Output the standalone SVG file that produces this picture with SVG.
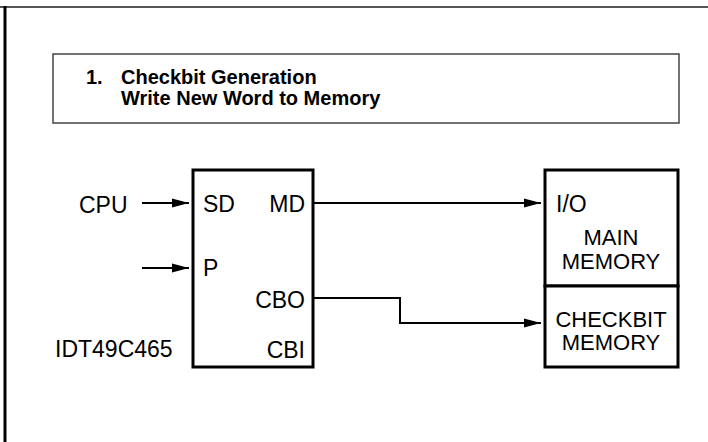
<svg xmlns="http://www.w3.org/2000/svg" width="708" height="442" viewBox="0 0 708 442">
<defs>
<marker id="ah" markerWidth="17" markerHeight="10" refX="17" refY="5" orient="auto" markerUnits="userSpaceOnUse">
<path d="M0,0.5 L17,5 L0,9.5 Z" fill="#000"/>
</marker>
</defs>
<style>
.t{font-family:"Liberation Sans",Arial,sans-serif;font-size:23px;fill:#000}
.t2{font-family:"Liberation Sans",Arial,sans-serif;font-size:22px;fill:#000}
.tb{font-family:"Liberation Sans",Arial,sans-serif;font-size:20px;font-weight:bold;fill:#000}
.box{fill:#fff;stroke:#000;stroke-width:3}
.ln{fill:none;stroke:#000;stroke-width:2}
</style>
<rect width="708" height="442" fill="#fff"/>
<g id="frame">
<line x1="0" y1="7" x2="708" y2="7" stroke="#555" stroke-width="2"/>
<line x1="5" y1="6" x2="5" y2="442" stroke="#000" stroke-width="3"/>
</g>
<g id="title">
<rect x="53" y="54" width="626" height="69" fill="#fff" stroke="#444" stroke-width="1.5"/>
<text class="tb" x="86" y="84">1.</text>
<text class="tb" x="121" y="84">Checkbit Generation</text>
<text class="tb" x="121" y="105">Write New Word to Memory</text>
</g>
<g id="chip">
<rect class="box" x="193" y="170" width="120" height="197"/>
<text class="t" x="203" y="212">SD</text>
<text class="t" x="305" y="212" text-anchor="end">MD</text>
<text class="t" x="203" y="276">P</text>
<text class="t" x="305" y="308" text-anchor="end">CBO</text>
<text class="t" x="305" y="358" text-anchor="end">CBI</text>
</g>
<g id="chip-label">
<text class="t" x="55" y="357">IDT49C465</text>
</g>
<g id="cpu">
<text class="t" x="79" y="213">CPU</text>
</g>
<g id="main-memory">
<rect class="box" x="545" y="170" width="133" height="116"/>
<text class="t" x="556" y="212">I/O</text>
<text class="t2" x="611" y="245" text-anchor="middle">MAIN</text>
<text class="t2" x="611" y="269" text-anchor="middle">MEMORY</text>
</g>
<g id="checkbit-memory">
<rect class="box" x="545" y="286" width="133" height="81"/>
<text class="t2" x="611" y="327" text-anchor="middle">CHECKBIT</text>
<text class="t2" x="611" y="350" text-anchor="middle">MEMORY</text>
</g>
<g id="connectors">
<line class="ln" x1="142" y1="203" x2="189" y2="203" marker-end="url(#ah)"/>
<line class="ln" x1="142" y1="268" x2="189" y2="268" marker-end="url(#ah)"/>
<line class="ln" x1="313" y1="203" x2="541" y2="203" marker-end="url(#ah)"/>
<polyline class="ln" points="313,298 400,298 400,323 541,323" marker-end="url(#ah)"/>
</g>
</svg>
